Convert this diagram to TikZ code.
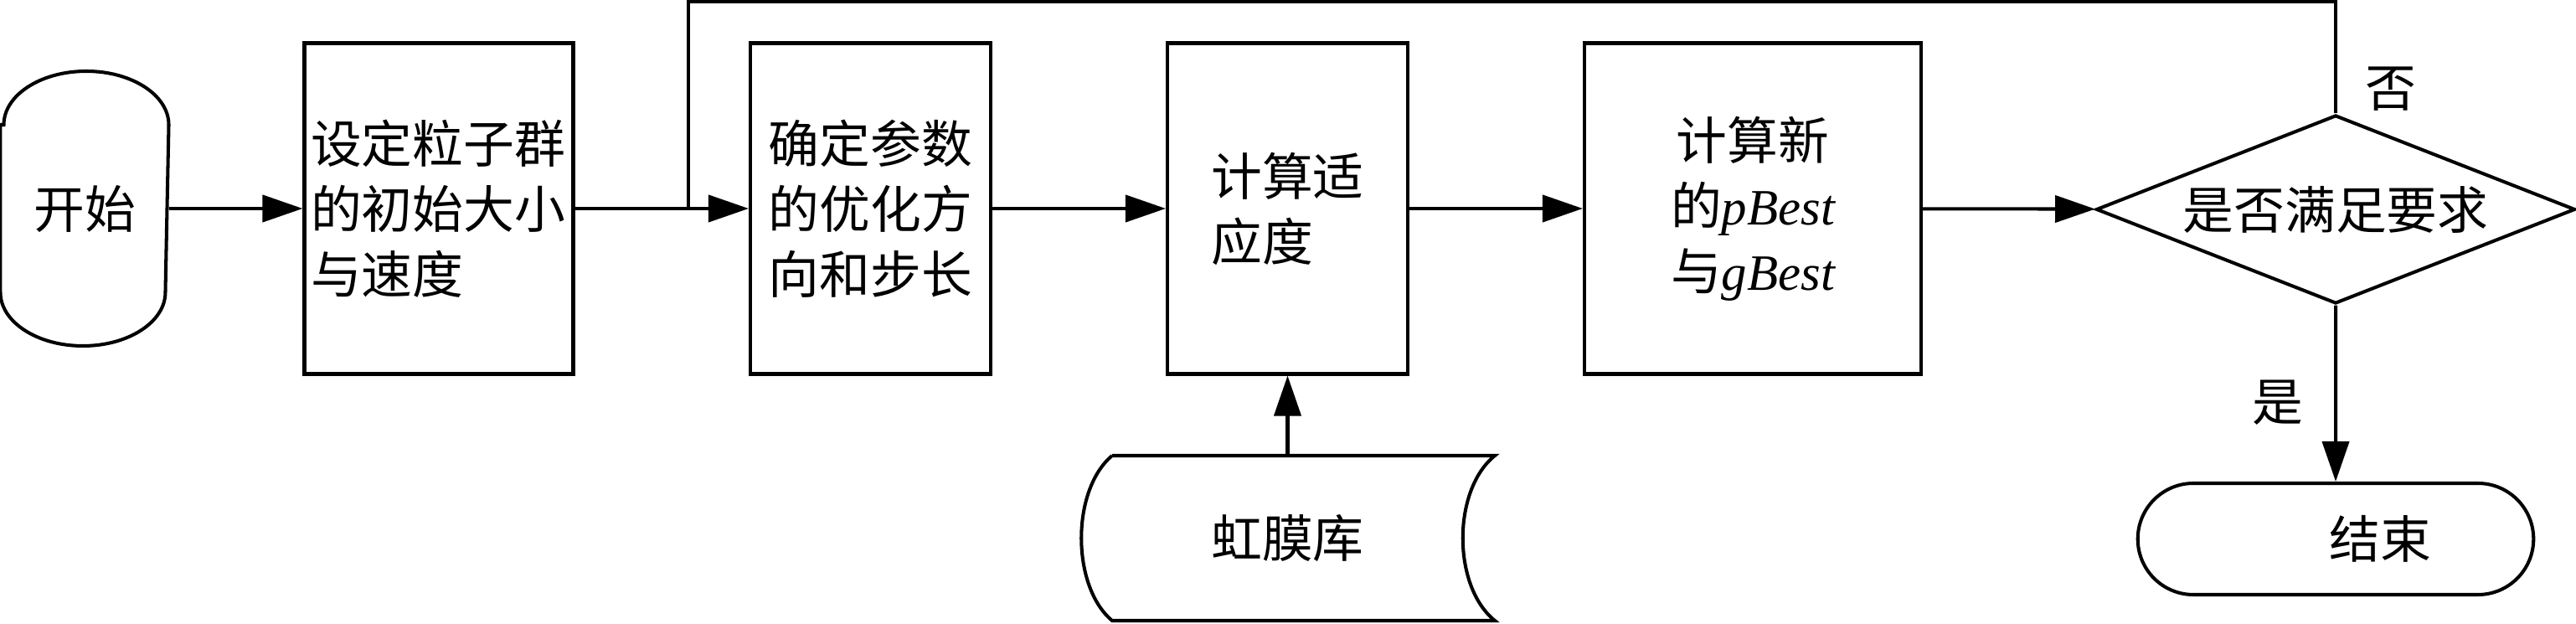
\documentclass[tikz,border=0pt]{standalone}
\usepackage{fontspec}
\setmainfont{Noto Sans CJK SC}
\newfontfamily\tnr{Liberation Serif}
\usetikzlibrary{arrows.meta,shapes.geometric,shapes.misc,positioning}
\begin{document}
\begin{tikzpicture}[line width=1.15pt,
  font=\fontsize{17.3}{22.2}\selectfont,
  stepbox/.style={draw, minimum height=3.95cm, inner sep=0.075cm},
  arr/.style={-{Triangle[length=4.8mm,width=3.2mm]}}]
  \useasboundingbox (0,0) rectangle (30.76,7.45);
  %Start
  \node[minimum width=1.97cm, minimum height=3.28cm, inner sep=0] (start) at (1.01,4.96) {开始};
  \draw ([yshift=1cm]start.west) -- ([yshift=-1cm]start.west)
    arc[start angle=180, end angle=360, x radius=0.985cm, y radius=0.64cm]
    -- ([yshift=1cm]start.east)
    arc[start angle=0, end angle=180, x radius=0.985cm, y radius=0.64cm] -- cycle;
  %Steps
  \node[stepbox, minimum width=3.2cm, text width=3.06cm, align=left] (init) at (5.24,4.96) {设定粒子群\\的初始大小\\与速度};
  \node[stepbox, minimum width=2.87cm, align=left] (param) at (10.395,4.96) {确定参数\\的优化方\\向和步长};
  \node[stepbox, minimum width=2.87cm, align=left] (fit) at (15.375,4.96) {计算适\\应度};
  \node[stepbox, minimum width=4.02cm, align=center] (best) at (20.93,4.96) {计算新\\的{\tnr\itshape pBest}\\与{\tnr\itshape gBest}};
  %Decision and end
  \node[draw, diamond, aspect=2.54, minimum width=5.72cm, minimum height=2.25cm, inner sep=0] (check) at (27.89,4.95) {是否满足要求};
  \node[draw, rounded rectangle, minimum width=4.96cm, minimum height=1.33cm] (stop) at (27.89,1.015) {\hspace*{1.06cm}结束};
  %Iris database
  \node[minimum height=1.97cm, inner sep=0] (iris) at (15.375,1.025) {虹膜库};
  \draw (13.28,2.01) -- (17.85,2.01) .. controls (17.34,1.6) and (17.34,0.45) .. (17.85,0.04)
    -- (13.28,0.04) .. controls (12.79,0.45) and (12.79,1.6) .. (13.28,2.01);
  %Connectors
  \coordinate (join) at (8.22,4.96);
  \coordinate (top) at (8.22,7.426);
  \draw[arr] (start) -- (init);
  \draw[arr] (init) -- (param);
  \draw[arr] (param) -- (fit);
  \draw[arr] (fit) -- (best);
  \draw[arr] (best) -- (check);
  \draw[arr] (iris) -- (fit);
  \draw[arr] (check) -- node[pos=0.55, left=0.25cm] {是} (stop);
  %Loop back
  \draw (check.north) -- node[pos=0.22, right=0.22cm] {否} (check.north |- top) -- (top) -- (join);
\end{tikzpicture}
\end{document}
